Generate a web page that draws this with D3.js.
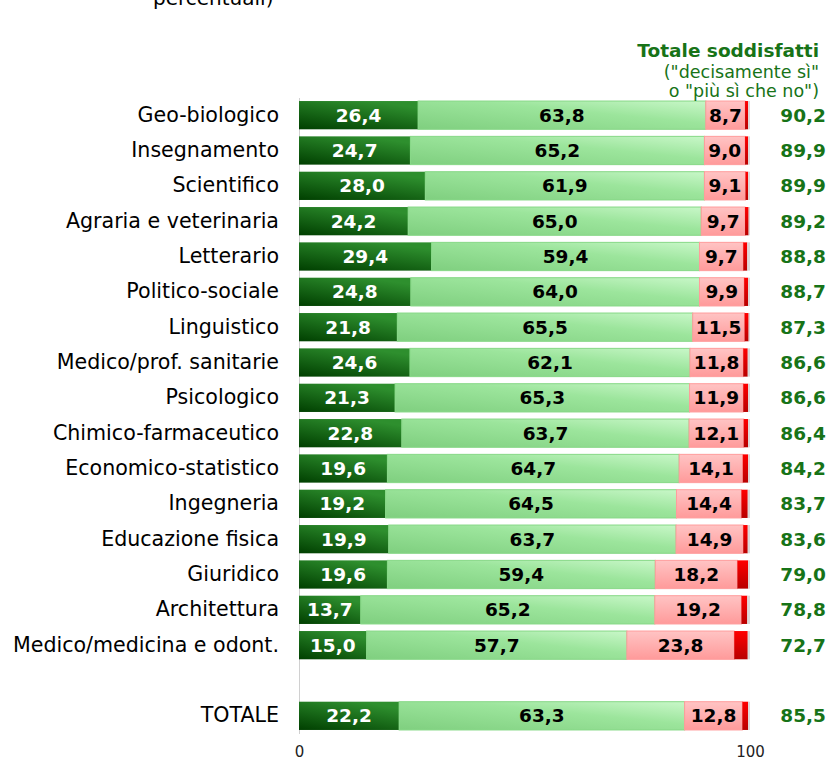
<!DOCTYPE html>
<html>
<head>
<meta charset="utf-8">
<script src="https://cdn.jsdelivr.net/npm/d3@7"></script>
<style>
  body { margin: 0; background: #fff; }
  svg { display: block; font-family: "DejaVu Sans", sans-serif; }
</style>
</head>
<body>
<svg width="831" height="762"></svg>
<script>
// categories (a blank row separates TOTALE)
const categories = [
  "Geo-biologico", "Insegnamento", "Scientifico", "Agraria e veterinaria",
  "Letterario", "Politico-sociale", "Linguistico", "Medico/prof. sanitarie",
  "Psicologico", "Chimico-farmaceutico", "Economico-statistico", "Ingegneria",
  "Educazione fisica", "Giuridico", "Architettura", "Medico/medicina e odont.",
  " ", "TOTALE"
];
// "decisamente sì"
const decisamenteSi = [26.4, 24.7, 28.0, 24.2, 29.4, 24.8, 21.8, 24.6, 21.3, 22.8, 19.6, 19.2, 19.9, 19.6, 13.7, 15.0, null, 22.2];
// "più sì che no"
const piuSi = [63.8, 65.2, 61.9, 65.0, 59.4, 64.0, 65.5, 62.1, 65.3, 63.7, 64.7, 64.5, 63.7, 59.4, 65.2, 57.7, null, 63.3];
// "più no che sì"
const piuNo = [8.7, 9.0, 9.1, 9.7, 9.7, 9.9, 11.5, 11.8, 11.9, 12.1, 14.1, 14.4, 14.9, 18.2, 19.2, 23.8, null, 12.8];
// "decisamente no" (not labelled)
const decisamenteNo = [0.7, 0.7, 0.6, 0.8, 0.9, 0.9, 0.9, 1.0, 1.1, 1.0, 1.2, 1.4, 1.0, 2.4, 1.3, 3.0, null, 1.3];
// no answer
const nonRisponde = [0.4, 0.4, 0.4, 0.3, 0.6, 0.4, 0.3, 0.5, 0.4, 0.4, 0.4, 0.5, 0.5, 0.4, 0.6, 0.5, null, 0.4];
// totale soddisfatti
const totali = [90.2, 89.9, 89.9, 89.2, 88.8, 88.7, 87.3, 86.6, 86.6, 86.4, 84.2, 83.7, 83.6, 79.0, 78.8, 72.7, null, 85.5];
const xTicks = [0, 100];

const seriesKeys = ["si", "piuSi", "piuNo", "no", "nr"];
const table = categories.map((c, i) => ({
  cat: c, si: decisamenteSi[i], piuSi: piuSi[i], piuNo: piuNo[i],
  no: decisamenteNo[i], nr: nonRisponde[i], tot: totali[i]
})).filter(d => d.si != null);

const svg = d3.select("svg");
const fmt = v => d3.format(".1f")(v).replace(".", ",");

const x = d3.scaleLinear().domain([0, 100]).range([299, 750]);
const y = d3.scaleBand().domain(categories).range([97.5, 733.5])
  .paddingInner(0.2).paddingOuter(0.1);

// gradients
const defs = svg.append("defs");
function grad(id, stops, x2, y2) {
  const g = defs.append("linearGradient").attr("id", id)
    .attr("x1", 0).attr("y1", 1).attr("x2", x2).attr("y2", y2);
  stops.forEach(s => g.append("stop").attr("offset", s[0]).attr("stop-color", s[1]));
}
grad("gSi", [[0, "#003f00"], [1, "#2e8f2e"]], 0.6, 0);
grad("gPiuSi", [[0, "#7fcf7f"], [0.6, "#9ce59c"], [1, "#c8f7c8"]], 1, 0);
grad("gPiuNo", [[0, "#ff9a9a"], [1, "#ffc4c4"]], 0, 0);
grad("gNo", [[0, "#b80000"], [1, "#ff0000"]], 0, 0);

const fills = { si: "url(#gSi)", piuSi: "url(#gPiuSi)", piuNo: "url(#gPiuNo)", no: "url(#gNo)", nr: "#d9d9d9" };
const strokes = { si: "none", piuSi: "#86d886", piuNo: "#ff9c9c", no: "none", nr: "none" };

const stacked = d3.stack().keys(seriesKeys)(table);

// vertical axis line + category labels
svg.append("g")
  .attr("transform", "translate(" + x(0) + ",0)")
  .call(d3.axisLeft(y).tickSize(0).tickPadding(20))
  .call(g => g.select(".domain").attr("stroke", "#d0d0d0"))
  .call(g => g.selectAll("text").attr("font-size", 20.6).attr("fill", "#000")
    .attr("font-family", "DejaVu Sans"));

// bottom tick labels
svg.append("g")
  .attr("transform", "translate(0,744)")
  .call(d3.axisBottom(x).tickValues(xTicks).tickSize(0).tickPadding(2).tickFormat(d3.format("d")))
  .call(g => g.select(".domain").remove())
  .call(g => g.selectAll("text").attr("font-size", 15).attr("fill", "#222")
    .attr("font-family", "DejaVu Sans"));

// bars
const layers = svg.append("g").selectAll("g")
  .data(stacked).join("g")
  .attr("fill", d => fills[d.key])
  .attr("stroke", d => strokes[d.key]);

layers.selectAll("rect")
  .data(d => d)
  .join("rect")
  .attr("x", d => x(d[0]))
  .attr("y", d => y(d.data.cat))
  .attr("width", d => x(d[1]) - x(d[0]))
  .attr("height", y.bandwidth());

// value labels for the first three segments
const labelColor = { si: "#fff", piuSi: "#000", piuNo: "#000" };
stacked.filter(s => labelColor[s.key]).forEach(s => {
  svg.append("g").selectAll("text")
    .data(s).join("text")
    .attr("x", d => (x(d[0]) + x(d[1])) / 2)
    .attr("y", d => y(d.data.cat) + y.bandwidth() / 2)
    .attr("dy", "0.36em")
    .attr("text-anchor", "middle")
    .attr("font-size", 18.5)
    .attr("font-weight", "bold")
    .attr("fill", labelColor[s.key])
    .text(d => fmt(d[1] - d[0]));
});

// totals
svg.append("g").selectAll("text")
  .data(table).join("text")
  .attr("x", 826)
  .attr("y", d => y(d.cat) + y.bandwidth() / 2)
  .attr("dy", "0.36em")
  .attr("text-anchor", "end")
  .attr("font-size", 18.5)
  .attr("font-weight", "bold")
  .attr("fill", "#177317")
  .text(d => fmt(d.tot));

// header
svg.append("text").attr("x", 819).attr("y", 57).attr("text-anchor", "end")
  .attr("font-size", 18.5).attr("font-weight", "bold").attr("fill", "#177317")
  .text("Totale soddisfatti");
svg.append("text").attr("x", 819).attr("y", 78).attr("text-anchor", "end")
  .attr("font-size", 17.5).attr("fill", "#177317")
  .text("(\"decisamente sì\"");
svg.append("text").attr("x", 819).attr("y", 97).attr("text-anchor", "end")
  .attr("font-size", 17.5).attr("fill", "#177317")
  .text("o \"più sì che no\")");

// title, cut by the top edge as in the original
svg.append("text").attr("x", 153).attr("y", 5)
  .attr("font-size", 20).attr("fill", "#000")
  .text("percentuali)");
</script>
</body>
</html>
